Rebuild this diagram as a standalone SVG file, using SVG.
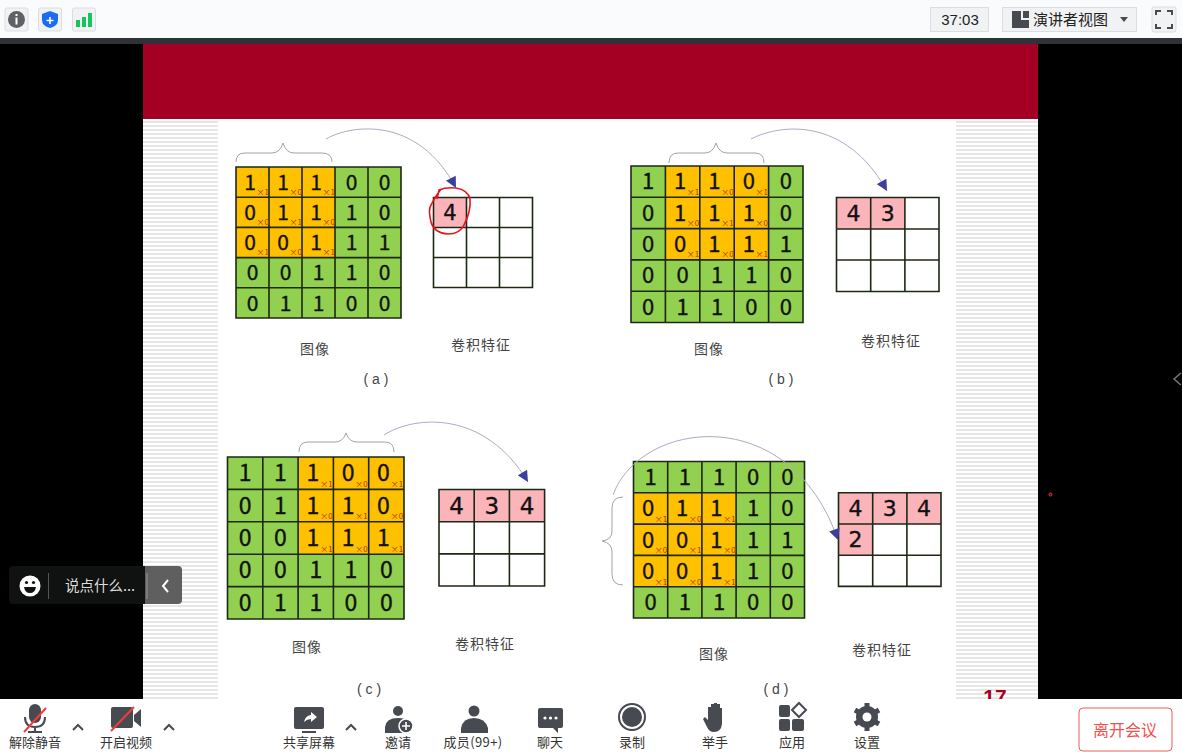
<svg xmlns="http://www.w3.org/2000/svg" width="1182" height="752" viewBox="0 0 1182 752">
<defs>
<pattern id="stripes" width="4" height="4" patternUnits="userSpaceOnUse"><rect width="4" height="4" fill="#fff"/><rect width="4" height="2" y="1" fill="#e6e6e6"/></pattern>
<marker id="arrow" viewBox="0 0 10 10" refX="10" refY="5" orient="auto" markerUnits="userSpaceOnUse" markerWidth="12" markerHeight="11"><path d="M0 0L10 5L0 10Z" fill="#3b409c"/></marker>
</defs>
<style>
text{font-family:"Noto Sans CJK SC","DejaVu Sans",sans-serif}
.d{font-family:"DejaVu Sans",sans-serif;fill:#111;stroke:#111;stroke-width:.35;text-anchor:middle}
.d21{font-size:21px}.d22{font-size:22px}.d23{font-size:23px}
.m{font-family:"DejaVu Sans",sans-serif;font-size:8px;fill:#b8300a;text-anchor:middle}
.g{fill:#92d050}.o{fill:#ffc000}.p{fill:#fab4ba}.w{fill:#fff}
.l{fill:none;stroke:#1c2814;stroke-width:1.6}
.c{font-size:14px;fill:#444;text-anchor:middle;letter-spacing:1px}
.s{font-family:"Liberation Sans",sans-serif;font-size:14px;fill:#444;text-anchor:middle}
.b{fill:none;stroke:#a3a3a3;stroke-width:1}
.a{fill:none;stroke:#a8acc2;stroke-width:1;marker-end:url(#arrow)}
.t{font-size:13px;fill:#333;text-anchor:middle}
.i{fill:#474a50}
.bt{fill:#f1f2f4;stroke:#dcdde0;stroke-width:1}
.ch{fill:none;stroke:#474a50;stroke-width:2}
</style>
<rect width="1182" height="752" fill="#000"/>
<g id="slide">
<rect x="143" y="44" width="895" height="655" fill="#fff"/>
<rect x="143" y="44" width="895" height="75" fill="#a30023"/>
<rect x="143" y="120" width="75" height="579" fill="url(#stripes)"/>
<rect x="956" y="120" width="82" height="579" fill="url(#stripes)"/>
<text x="995" y="704" font-size="21" font-weight="700" fill="#a30023" text-anchor="middle" style="font-family:'Liberation Sans',sans-serif">17</text>
</g>

<g id="image-a">
<rect class="g" x="236" y="167" width="165" height="151"/>
<rect class="o" x="236" y="167" width="99" height="90.6"/>
<path class="l" d="M236 167H401V318H236ZM269 167V318M302 167V318M335 167V318M368 167V318M236 197.2H401M236 227.4H401M236 257.6H401M236 287.8H401"/>
<g class="d d21">
<text x="250" y="189.7">1</text><text x="283" y="189.7">1</text><text x="316" y="189.7">1</text><text x="351.5" y="189.7">0</text><text x="384.5" y="189.7">0</text>
<text x="250" y="219.9">0</text><text x="283" y="219.9">1</text><text x="316" y="219.9">1</text><text x="351.5" y="219.9">1</text><text x="384.5" y="219.9">0</text>
<text x="250" y="250.1">0</text><text x="283" y="250.1">0</text><text x="316" y="250.1">1</text><text x="351.5" y="250.1">1</text><text x="384.5" y="250.1">1</text>
<text x="252.5" y="280.3">0</text><text x="285.5" y="280.3">0</text><text x="318.5" y="280.3">1</text><text x="351.5" y="280.3">1</text><text x="384.5" y="280.3">0</text>
<text x="252.5" y="310.5">0</text><text x="285.5" y="310.5">1</text><text x="318.5" y="310.5">1</text><text x="351.5" y="310.5">0</text><text x="384.5" y="310.5">0</text>
</g>
<g class="m">
<text x="262.8" y="194.7">×1</text><text x="295.8" y="194.7">×0</text><text x="328.8" y="194.7">×1</text>
<text x="262.8" y="224.9">×0</text><text x="295.8" y="224.9">×1</text><text x="328.8" y="224.9">×0</text>
<text x="262.8" y="255.1">×1</text><text x="295.8" y="255.1">×0</text><text x="328.8" y="255.1">×1</text>
</g>
<text class="c" x="315" y="354">图像</text>
<text class="s" x="376" y="384" xml:space="preserve">( a )</text>
</g>
<g id="feature-a">
<rect class="p" x="433.5" y="197.5" width="33" height="30"/>
<path class="l" d="M433.5 197.5H532.5V287.5H433.5ZM466.5 197.5V287.5M499.5 197.5V287.5M433.5 227.5H532.5M433.5 257.5H532.5"/>
<text class="d d21" x="450" y="220">4</text>
<text class="c" x="481" y="350">卷积特征</text>
<path d="M437 199L439 190Q446 187 456 188Q468 190 470 199Q471 212 464 225Q460 234 448 234Q434 233 431 222Q428 210 431 205Q435 197 441 189" fill="none" stroke="#e8141c" stroke-width="1.6"/>
</g>

<g id="image-b">
<rect class="g" x="631" y="166" width="172" height="156.5"/>
<rect class="o" x="665.4" y="166" width="103.2" height="93.9"/>
<path class="l" d="M631 166H803V322.5H631ZM665.4 166V322.5M699.8 166V322.5M734.2 166V322.5M768.6 166V322.5M631 197.3H803M631 228.6H803M631 259.9H803M631 291.2H803"/>
<g class="d d22">
<text x="648.2" y="189.4">1</text><text x="680" y="189.4">1</text><text x="714.4" y="189.4">1</text><text x="748.8" y="189.4">0</text><text x="785.8" y="189.4">0</text>
<text x="648.2" y="220.7">0</text><text x="680" y="220.7">1</text><text x="714.4" y="220.7">1</text><text x="748.8" y="220.7">1</text><text x="785.8" y="220.7">0</text>
<text x="648.2" y="252">0</text><text x="680" y="252">0</text><text x="714.4" y="252">1</text><text x="748.8" y="252">1</text><text x="785.8" y="252">1</text>
<text x="648.2" y="283.3">0</text><text x="682.6" y="283.3">0</text><text x="717" y="283.3">1</text><text x="751.4" y="283.3">1</text><text x="785.8" y="283.3">0</text>
<text x="648.2" y="314.6">0</text><text x="682.6" y="314.6">1</text><text x="717" y="314.6">1</text><text x="751.4" y="314.6">0</text><text x="785.8" y="314.6">0</text>
</g>
<g class="m">
<text x="693" y="194.5">×1</text><text x="727.4" y="194.5">×0</text><text x="761.8" y="194.5">×1</text>
<text x="693" y="225.8">×0</text><text x="727.4" y="225.8">×1</text><text x="761.8" y="225.8">×0</text>
<text x="693" y="257.1">×1</text><text x="727.4" y="257.1">×0</text><text x="761.8" y="257.1">×1</text>
</g>
<text class="c" x="709" y="354">图像</text>
<text class="s" x="781" y="384" xml:space="preserve">( b )</text>
</g>
<g id="feature-b">
<rect class="p" x="836.5" y="197.5" width="68.4" height="31.5"/>
<path class="l" d="M836.5 197.5H939V291.5H836.5ZM870.7 197.5V291.5M904.9 197.5V291.5M836.5 229H939M836.5 260H939"/>
<text class="d d22" x="853.6" y="221">4</text><text class="d d22" x="887.8" y="221">3</text>
<text class="c" x="891" y="346">卷积特征</text>
</g>

<g id="image-c">
<rect class="g" x="227.5" y="457" width="176.5" height="162"/>
<rect class="o" x="298.1" y="457" width="105.9" height="97.2"/>
<path class="l" d="M227.5 457H404V619H227.5ZM262.8 457V619M298.1 457V619M333.4 457V619M368.7 457V619M227.5 489.4H404M227.5 521.8H404M227.5 554.2H404M227.5 586.6H404"/>
<g class="d d23">
<text x="245.2" y="481.2">1</text><text x="280.5" y="481.2">1</text><text x="313" y="481.2">1</text><text x="348.2" y="481.2">0</text><text x="383.5" y="481.2">0</text>
<text x="245.2" y="513.6">0</text><text x="280.5" y="513.6">1</text><text x="313" y="513.6">1</text><text x="348.2" y="513.6">1</text><text x="383.5" y="513.6">0</text>
<text x="245.2" y="546">0</text><text x="280.5" y="546">0</text><text x="313" y="546">1</text><text x="348.2" y="546">1</text><text x="383.5" y="546">1</text>
<text x="245.2" y="578.4">0</text><text x="280.5" y="578.4">0</text><text x="315.8" y="578.4">1</text><text x="351" y="578.4">1</text><text x="386.3" y="578.4">0</text>
<text x="245.2" y="610.8">0</text><text x="280.5" y="610.8">1</text><text x="315.8" y="610.8">1</text><text x="351" y="610.8">0</text><text x="386.3" y="610.8">0</text>
</g>
<g class="m">
<text x="326.4" y="487">×1</text><text x="361.6" y="487">×0</text><text x="396.9" y="487">×1</text>
<text x="326.4" y="519.4">×0</text><text x="361.6" y="519.4">×1</text><text x="396.9" y="519.4">×0</text>
<text x="326.4" y="551.8">×1</text><text x="361.6" y="551.8">×0</text><text x="396.9" y="551.8">×1</text>
</g>
<text class="c" x="307" y="652">图像</text>
<text class="s" x="369" y="694" xml:space="preserve">( c )</text>
</g>
<g id="feature-c">
<rect class="p" x="439" y="489.5" width="105.6" height="32.2"/>
<path class="l" d="M439 489.5H544.6V586H439ZM474.2 489.5V586M509.4 489.5V586M439 521.7H544.6M439 553.9H544.6"/>
<text class="d d23" x="456.6" y="513.6">4</text><text class="d d23" x="491.8" y="513.6">3</text><text class="d d23" x="527" y="513.6">4</text>
<text class="c" x="485" y="649">卷积特征</text>
</g>

<g id="image-d">
<rect class="g" x="633.5" y="461.5" width="171" height="156.5"/>
<rect class="o" x="633.5" y="492.8" width="102.6" height="93.9"/>
<path class="l" d="M633.5 461.5H804.5V618H633.5ZM667.7 461.5V618M701.9 461.5V618M736.1 461.5V618M770.3 461.5V618M633.5 492.8H804.5M633.5 524.1H804.5M633.5 555.4H804.5M633.5 586.7H804.5"/>
<g class="d d22">
<text x="650.6" y="484.8">1</text><text x="684.8" y="484.8">1</text><text x="719" y="484.8">1</text><text x="753.2" y="484.8">0</text><text x="787.4" y="484.8">0</text>
<text x="648" y="516.1">0</text><text x="682.2" y="516.1">1</text><text x="716.4" y="516.1">1</text><text x="753.2" y="516.1">1</text><text x="787.4" y="516.1">0</text>
<text x="648" y="547.5">0</text><text x="682.2" y="547.5">0</text><text x="716.4" y="547.5">1</text><text x="753.2" y="547.5">1</text><text x="787.4" y="547.5">1</text>
<text x="648" y="578.7">0</text><text x="682.2" y="578.7">0</text><text x="716.4" y="578.7">1</text><text x="753.2" y="578.7">1</text><text x="787.4" y="578.7">0</text>
<text x="650.6" y="610.1">0</text><text x="684.8" y="610.1">1</text><text x="719" y="610.1">1</text><text x="753.2" y="610.1">0</text><text x="787.4" y="610.1">0</text>
</g>
<g class="m">
<text x="661" y="522">×1</text><text x="695.2" y="522">×0</text><text x="729.4" y="522">×1</text>
<text x="661" y="553.3">×0</text><text x="695.2" y="553.3">×1</text><text x="729.4" y="553.3">×0</text>
<text x="661" y="584.6">×1</text><text x="695.2" y="584.6">×0</text><text x="729.4" y="584.6">×1</text>
</g>
<text class="c" x="714" y="659">图像</text>
<text class="s" x="776" y="694" xml:space="preserve">( d )</text>
</g>
<g id="feature-d">
<rect class="p" x="838.5" y="492.8" width="102.5" height="31.2"/>
<rect class="p" x="838.5" y="524" width="34.2" height="31.2"/>
<path class="l" d="M838.5 492.8H941V586.4H838.5ZM872.7 492.8V586.4M906.9 492.8V586.4M838.5 524H941M838.5 555.2H941"/>
<text class="d d22" x="855.6" y="516.1">4</text><text class="d d22" x="889.8" y="516.1">3</text><text class="d d22" x="924" y="516.1">4</text><text class="d d22" x="855.6" y="547.3">2</text>
<text class="c" x="882" y="655">卷积特征</text>
</g>

<g id="connectors">
<path class="b" d="M236 162Q236 153 245 153H272Q280 153 283 143Q286 153 294 153H322Q332 153 332 162"/>
<path class="b" d="M669 163Q669 153 678 153H705Q713 153 716 143Q719 153 727 153H755Q764 153 764 163"/>
<path class="b" d="M299 452Q299 442 308 442H335Q343 442 346 433Q349 442 357 442H385Q394 442 394 452"/>
<path class="b" d="M623 497Q612 497 612 508V531Q612 540 602 541Q612 543 612 552V574Q612 585 623 585"/>
<path class="a" d="M326 139C352 124 418 116 456 188"/>
<path class="a" d="M751 139C780 124 845 116 887 191"/>
<path class="a" d="M384 435C415 415 485 410 528 482"/>
<path class="a" d="M613 495C640 420 790 400 838 540"/>
</g>

<g id="top-toolbar">
<rect width="1182" height="38" fill="#fafbfc"/>
<rect y="38" width="1182" height="6" fill="#2f3237"/>
<rect class="bt" x="5" y="8" width="23" height="23" rx="2"/>
<circle cx="16.5" cy="19.5" r="8.5" fill="#5f6166"/>
<rect x="15.5" y="14" width="2" height="2" fill="#fff"/><rect x="15.5" y="17.5" width="2" height="7" fill="#fff"/>
<rect class="bt" x="38.5" y="8" width="23" height="23" rx="2"/>
<path d="M50 11L58 14V20Q58 26 50 28Q42 26 42 20V14Z" fill="#1a6cf5"/>
<path d="M46.5 20.5H53.5M50 17V24" stroke="#fff" stroke-width="1.6"/>
<rect class="bt" x="72.5" y="8" width="23" height="23" rx="2"/>
<rect x="76" y="20" width="4" height="7" fill="#12c85e"/><rect x="82" y="17" width="4" height="10" fill="#12c85e"/><rect x="88" y="13" width="4" height="14" fill="#12c85e"/>
<rect class="bt" x="930.5" y="7.5" width="58" height="24"/>
<text x="960" y="25" font-size="15" fill="#222" text-anchor="middle" style="font-family:'Liberation Sans',sans-serif">37:03</text>
<rect class="bt" x="1002.5" y="7.5" width="134" height="24"/>
<path class="i" d="M1012 11H1021V20H1029V28H1012ZM1023 11H1029V18H1023Z"/>
<text x="1033" y="25" font-size="15" fill="#222">演讲者视图</text>
<path d="M1120 17H1128L1124 22Z" class="i"/>
<rect class="bt" x="1152" y="7" width="24" height="25" rx="2"/>
<path class="ch" d="M1156 15V11H1161M1167 11H1172V15M1172 24V28H1167M1161 28H1156V24"/>
</g>

<g id="chat-box">
<rect x="9" y="566" width="140" height="38" rx="4" fill="#101111"/>
<path d="M145 566H178Q182 566 182 570V600Q182 604 178 604H145Z" fill="#5f5f5f"/>
<circle cx="30" cy="586" r="10.5" fill="#fff"/>
<circle cx="26.5" cy="582.5" r="1.6" fill="#111"/><circle cx="33.5" cy="582.5" r="1.6" fill="#111"/>
<path d="M24 587H36Q35 593 30 593Q25 593 24 587Z" fill="#111"/>
<path d="M48.5 573V599" stroke="#555" stroke-width="1"/>
<text x="65" y="591" font-size="14.5" fill="#ddd">说点什么...</text>
<path d="M147 573V599" stroke="#999" stroke-width="1"/>
<path d="M168 580L163 586L168 592" fill="none" stroke="#fff" stroke-width="2"/>
</g>
<path id="side-chevron" d="M1181 373L1174 379L1181 385" fill="none" stroke="#777" stroke-width="1.5"/>
<circle id="pointer-dot" cx="1050.5" cy="494.5" r="1.5" fill="#222" stroke="#e33" stroke-width="1"/>

<g id="bottom-toolbar">
<rect y="699" width="1182" height="53" fill="#fff"/>
<g id="tool-mic">
<rect class="i" x="29" y="704" width="12" height="19" rx="6"/>
<path d="M25 717Q25 727 35 727Q45 727 45 717M35 727V732M28 732H42" fill="none" stroke="#474a50" stroke-width="2"/>
<path d="M24 732L46 708" stroke="#f23c3c" stroke-width="2"/>
<text class="t" x="35" y="747">解除静音</text>
</g>
<path class="ch" d="M73 730L78 725L83 730"/>
<g id="tool-video">
<rect class="i" x="111" y="707" width="22" height="21" rx="2"/>
<path class="i" d="M134 715L141 709V727L134 721Z"/>
<path d="M111 731L134 707" stroke="#f23c3c" stroke-width="2"/>
<text class="t" x="126" y="747">开启视频</text>
</g>
<path class="ch" d="M164 730L169 725L174 730"/>
<g id="tool-share">
<rect class="i" x="294" y="707" width="30" height="22" rx="2"/>
<rect class="i" x="302" y="731" width="14" height="2"/>
<path d="M304 722Q305 716 311 715V712L317 717L311 722V719Q307 719 304 722Z" fill="#fff"/>
<text class="t" x="309" y="747">共享屏幕</text>
</g>
<path class="ch" d="M346 730L351 725L356 730"/>
<g id="tool-invite">
<circle class="i" cx="398" cy="711" r="5"/>
<path class="i" d="M385 733V727Q386 718 398 718Q406 718 409 722V733Z"/>
<circle cx="406" cy="726" r="7" fill="#474a50" stroke="#fff" stroke-width="1.5"/>
<path d="M402 726H410M406 722V730" stroke="#fff" stroke-width="1.6"/>
<text class="t" x="398" y="747">邀请</text>
</g>
<g id="tool-members">
<circle class="i" cx="474" cy="711" r="5.5"/>
<path class="i" d="M461 733V728Q463 718 474 718Q485 718 488 728V733Z"/>
<text class="t" x="473" y="747" style="letter-spacing:.4px">成员(99+)</text>
</g>
<g id="tool-chat">
<path class="i" d="M540 708H561Q563 708 563 710V726Q563 728 561 728H558V733L553 728H540Q538 728 538 726V710Q538 708 540 708Z"/>
<circle cx="545" cy="718" r="1.6" fill="#fff"/><circle cx="550.5" cy="718" r="1.6" fill="#fff"/><circle cx="556" cy="718" r="1.6" fill="#fff"/>
<text class="t" x="550" y="747">聊天</text>
</g>
<g id="tool-record">
<circle cx="632" cy="717" r="13" fill="none" stroke="#474a50" stroke-width="2"/>
<circle class="i" cx="632" cy="717" r="10"/>
<text class="t" x="632" y="747">录制</text>
</g>
<g id="tool-hand">
<path class="i" d="M708 707H711V704H714V703H717V704H720V708H722V724Q721 732 714 732Q709 732 707 727L703 719L705 717L708 720Z"/>
<text class="t" x="715" y="747">举手</text>
</g>
<g id="tool-apps">
<rect class="i" x="779" y="705" width="11" height="12" rx="2"/>
<path d="M799 703L806 710L799 717L792 710Z" fill="none" stroke="#474a50" stroke-width="2"/>
<rect class="i" x="779" y="719" width="11" height="12" rx="2"/>
<rect class="i" x="792" y="719" width="12" height="12" rx="2"/>
<text class="t" x="792" y="747">应用</text>
</g>
<g id="tool-settings">
<circle class="i" cx="867" cy="717" r="11"/>
<path d="M867 703V731M855 710L879 724M855 724L879 710" stroke="#474a50" stroke-width="5"/>
<circle cx="867" cy="717" r="4.5" fill="#fff"/>
<text class="t" x="867" y="747">设置</text>
</g>
<g id="leave-button">
<rect x="1079" y="708" width="93" height="43" rx="4" fill="#fff" stroke="#f25c5c" stroke-width="1"/>
<text x="1125" y="736" font-size="16" fill="#f25050" text-anchor="middle">离开会议</text>
</g>
</g>
</svg>
